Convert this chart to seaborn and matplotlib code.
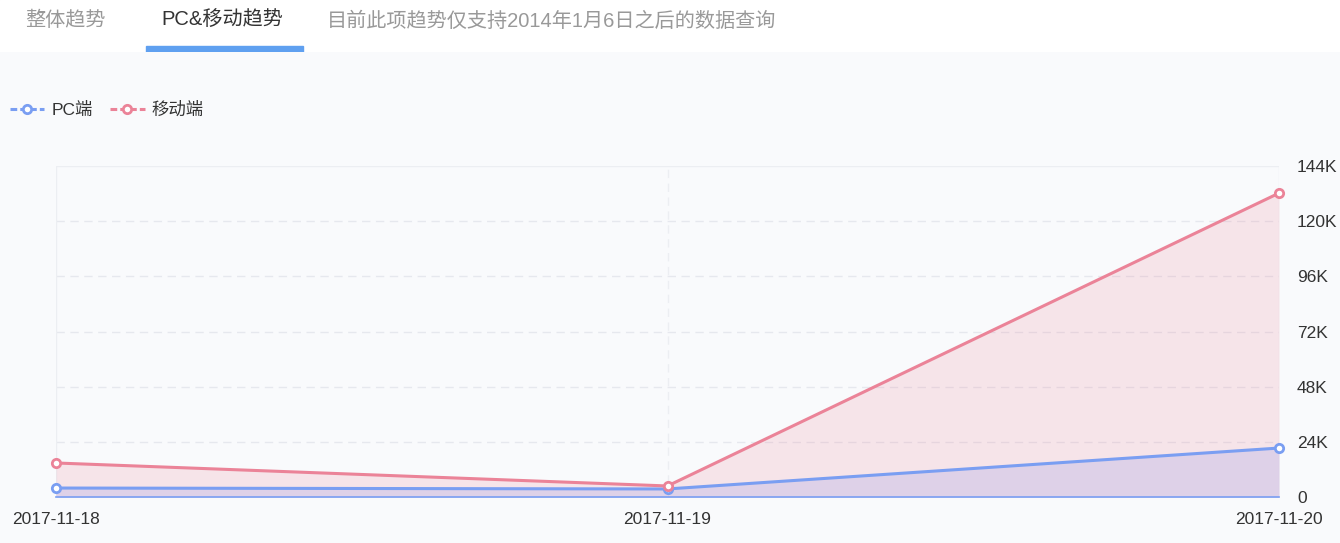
import pandas as pd
import matplotlib.pyplot as plt
import seaborn as sns

# data
dates = ['2017-11-18', '2017-11-19', '2017-11-20']
pc_values = [3900, 3500, 21300]
mobile_values = [14800, 4800, 132200]
series_names = ['PC端', '移动端']
y_ticks = [0, 24000, 48000, 72000, 96000, 120000, 144000]
y_tick_labels = ['0', '24K', '48K', '72K', '96K', '120K', '144K']

blue = '#7a9ef2'
pink = '#eb8398'

df = pd.DataFrame({
    'date': dates * 2,
    'value': pc_values + mobile_values,
    'series': [series_names[0]] * 3 + [series_names[1]] * 3,
})

sns.set_theme(style='white')
plt.rcParams['font.family'] = ['Liberation Sans', 'Noto Sans CJK SC', 'DejaVu Sans']

W, H = 1340, 543
fig = plt.figure(figsize=(W / 100, H / 100), dpi=100)
fig.patch.set_facecolor('#f9fafc')

# header strip with tabs
hdr = fig.add_axes([0, 1 - 52 / H, 1, 52 / H])
hdr.set_xlim(0, W)
hdr.set_ylim(52, 0)
hdr.axis('off')
hdr.add_patch(plt.Rectangle((0, 0), W, 52, color='white', zorder=0))
hdr.add_patch(plt.Rectangle((146, 46), 157, 6, color='#5fa0f0', zorder=2))
hdr.text(25, 20, '整体趋势', fontsize=14.5, color='#999999', va='center')
hdr.text(161, 20, 'PC&移动趋势', fontsize=14.5, color='#333333', va='center')
hdr.text(327, 21, '目前此项趋势仅支持2014年1月6日之后的数据查询', fontsize=14.5,
         color='#999999', va='center')

ax = fig.add_axes([56 / W, (H - 497) / H, (1279 - 56) / W, (497 - 166) / H])
ax.set_facecolor('#f9fafc')

palette = {series_names[0]: blue, series_names[1]: pink}
ax.fill_between(dates, mobile_values, color=pink, alpha=0.18, lw=0, zorder=1)
ax.fill_between(dates, pc_values, color='#a8a8e8', alpha=0.3, lw=0, zorder=1)
sns.lineplot(data=df, x='date', y='value', hue='series', palette=palette,
             marker='o', markersize=6, markerfacecolor='white', markeredgewidth=2,
             linewidth=2.2, ax=ax, legend=False, zorder=3)
for line in ax.lines:
    line.set_markeredgecolor(line.get_color())
    line.set_clip_on(False)

ax.set_xlim(0, 2)
ax.set_ylim(0, 144000)
ax.set_yticks(y_ticks)
ax.set_yticklabels(y_tick_labels)
ax.yaxis.tick_right()
ax.tick_params(axis='y', length=0, pad=13, labelsize=12.5, labelcolor='#333333')
ax.tick_params(axis='x', length=0, pad=11, labelsize=12.5, labelcolor='#333333')
ax.set_xlabel('')
ax.set_ylabel('')

for y in y_ticks[1:-1]:
    ax.axhline(y, color='#e6e8ee', lw=1, ls=(0, (6, 4)), zorder=0)
ax.axhline(144000, color='#eceef2', lw=1, zorder=0)
for x in range(3):
    ax.axvline(x, color='#eceef2', lw=1, ls=(0, (6, 4)) if x == 1 else '-', zorder=0)

for s in ['top', 'right', 'left']:
    ax.spines[s].set_visible(False)
ax.spines['bottom'].set_color(blue)
ax.spines['bottom'].set_linewidth(1.2)

# legend in the top-left corner
handles = [plt.Line2D([], [], color=c, lw=2.2, ls=(0, (2.2, 1)), marker='o', markersize=6,
                      markerfacecolor='white', markeredgewidth=2)
           for c in [blue, pink]]
fig.legend(handles, series_names, loc='upper left', bbox_to_anchor=(-6 / W, 1 - 86 / H),
           frameon=False, fontsize=12.5, handlelength=2.0, handletextpad=0.4,
           columnspacing=1.0, ncol=2, labelcolor='#333333')

fig.savefig('out.png', dpi=100, facecolor=fig.get_facecolor())
